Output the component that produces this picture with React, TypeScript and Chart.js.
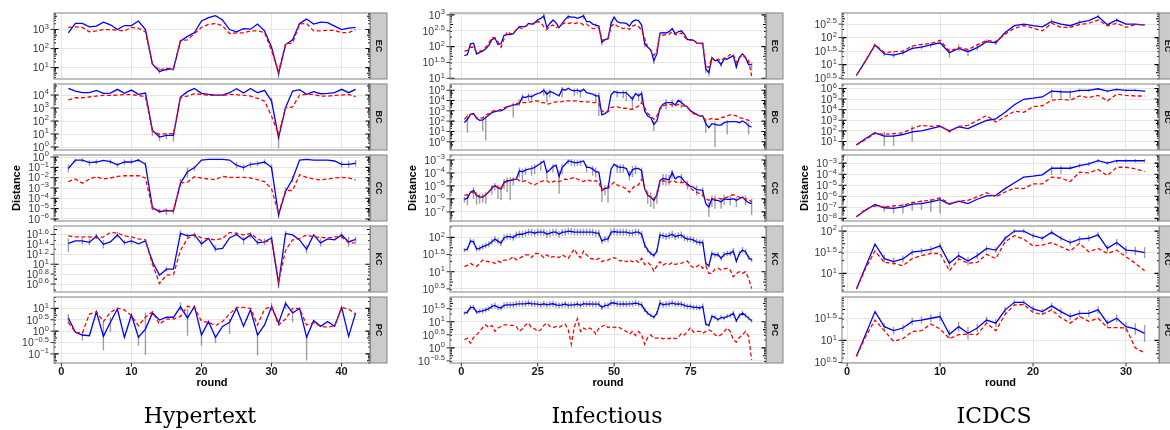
import React, { useEffect, useRef } from 'react';
import { Chart, registerables } from 'chart.js';
Chart.register(...registerables);

// All series values as log10(Distance) exponents.
// rounds are 1..N (index + 1)

// ---------- Hypertext (42 rounds) ----------
const hyperXTicks = [0, 10, 20, 30, 40];
const hyperEC_solid = [2.82,3.32,3.32,3.14,3.18,3.39,3.25,3.0,3.21,3.21,3.45,3.0,1.18,0.79,0.91,0.93,2.39,2.64,2.84,3.45,3.63,3.73,3.5,3.0,2.88,3.05,3.02,3.29,2.93,2.07,0.68,2.21,2.46,3.32,3.55,3.29,3.39,3.36,3.18,3.0,3.07,3.11];
const hyperEC_dashed = [3.11,3.14,3.11,2.88,2.93,3.0,3.0,2.96,2.93,3.11,3.07,2.88,1.18,0.88,0.96,0.96,2.43,2.46,2.79,3.11,3.27,3.32,3.2,2.79,2.82,2.82,2.93,2.93,2.84,1.89,0.79,2.25,2.29,3.29,3.32,2.93,2.93,2.96,2.96,2.84,2.84,3.0];
const hyperBC_solid = [4.51,4.31,4.18,4.18,4.36,4.13,4.15,4.44,4.13,4.38,4.05,4.15,1.28,0.77,0.9,0.9,3.85,4.26,4.51,4.13,4.05,4.0,4.0,4.18,4.49,4.15,4.51,4.18,4.36,3.54,0.72,3.03,4.31,4.41,4.05,4.26,4.1,4.13,4.18,4.44,4.18,4.44];
const hyperBC_dashed = [3.62,3.79,3.79,3.85,3.92,3.97,3.97,4.0,4.03,4.03,3.97,3.87,1.23,0.97,1.03,1.03,3.79,3.92,4.1,4.05,3.97,3.97,3.97,4.05,4.03,3.97,3.92,3.74,3.54,2.38,0.97,3.03,3.08,4.0,4.05,4.05,3.92,3.92,3.97,4.0,4.05,3.87];
const hyperCC_solid = [-1.11,-0.29,-0.29,-0.54,-0.48,-0.32,-0.44,-0.76,-0.48,-0.48,-0.29,-0.7,-4.89,-5.3,-5.2,-5.24,-2.54,-1.43,-1.02,-0.29,-0.22,-0.22,-0.22,-0.29,-0.79,-1.02,-0.7,-0.63,-0.48,-1.02,-5.62,-3.33,-2.13,-0.29,-0.22,-0.29,-0.29,-0.29,-0.38,-0.7,-0.7,-0.6];
const hyperCC_dashed = [-2.38,-2.13,-2.54,-2.13,-1.9,-2.13,-2.03,-1.87,-1.81,-1.81,-1.81,-2.03,-4.98,-5.2,-5.14,-5.2,-2.51,-2.44,-1.9,-2.03,-2.13,-2.19,-1.87,-1.97,-1.97,-1.97,-2.03,-2.19,-2.38,-3.08,-5.46,-3.24,-3.24,-1.71,-1.97,-2.13,-2.22,-2.13,-2.03,-1.97,-2.03,-2.22];
const hyperKC_solid = [1.42,1.47,1.47,1.44,1.57,1.40,1.45,1.59,1.43,1.47,1.41,1.47,1.05,0.78,0.9,0.9,1.62,1.57,1.59,1.41,1.52,1.30,1.32,1.53,1.60,1.49,1.59,1.43,1.45,1.53,0.61,1.62,1.59,1.49,1.30,1.59,1.43,1.51,1.49,1.59,1.45,1.50];
const hyperKC_dashed = [1.57,1.55,1.55,1.55,1.53,1.55,1.64,1.63,1.57,1.55,1.51,1.49,1.0,0.61,0.78,0.79,1.28,1.52,1.6,1.53,1.51,1.49,1.52,1.64,1.62,1.59,1.62,1.51,1.45,1.47,0.65,1.28,1.49,1.52,1.59,1.55,1.54,1.53,1.55,1.55,1.43,1.43];
const hyperPC_solid = [0.58,-0.05,-0.17,-0.2,0.85,-0.23,0.39,0.97,-0.27,0.71,-0.27,0.09,0.8,0.49,0.61,0.61,1.07,0.58,1.09,-0.17,0.42,-0.27,0.21,0.39,1.01,0.21,0.94,-0.17,0.27,1.07,0.36,1.22,0.8,1.0,-0.27,0.46,0.21,0.42,0.21,1.04,-0.23,0.8];
const hyperPC_dashed = [0.39,-0.05,-0.09,0.75,0.85,0.42,0.82,1.01,0.94,0.68,0.24,0.61,0.85,0.31,0.53,0.53,0.65,1.09,1.04,0.43,0.39,0.24,0.42,0.75,1.04,1.04,1.0,0.27,0.97,1.09,0.27,0.53,1.0,1.0,0.27,0.36,0.21,0.17,0.24,1.04,0.97,0.75];
const hyperEC_ticks = [1, 2, 3];
const hyperBC_ticks = [0, 1, 2, 3, 4];
const hyperCC_ticks = [-6, -5, -4, -3, -2, -1, 0];
const hyperKC_ticks = [0.6, 0.8, 1, 1.2, 1.4, 1.6];
const hyperPC_ticks = [-1, -0.5, 0, 0.5, 1];
// error bars of the solid series: [round, low, high]
const hyperEC_err = [[14,0.68,1.0],[15,0.8,1.0],[16,0.82,1.02],[31,0.45,0.85]];
const hyperBC_err = [[13,0.85,1.5],[14,0.46,1.05],[15,0.6,1.05],[16,0.41,1.1],[30,3.3,3.8],[31,-0.1,1.1]];
const hyperCC_err = [[1,-1.49,-0.7],[2,-0.54,-0.16],[3,-0.48,-0.1],[4,-0.86,-0.29],[5,-0.7,-0.22],[7,-0.7,-0.22],[8,-1.02,-0.54],[9,-0.76,-0.22],[10,-0.7,-0.22],[11,-0.48,-0.16],[12,-0.92,-0.48],[13,-5.14,-4.67],[14,-5.46,-5.05],[15,-5.62,-4.98],[16,-5.56,-4.98],[17,-2.92,-2.13],[18,-1.97,-1.02],[19,-1.33,-0.86],[25,-1.11,-0.48],[26,-1.33,-0.7],[27,-1.02,-0.48],[28,-0.86,-0.38],[29,-0.7,-0.22],[30,-1.33,-0.7],[31,-6.0,-5.3],[32,-3.65,-2.92],[33,-2.44,-1.81],[40,-1.02,-0.38],[41,-1.02,-0.38],[42,-0.92,-0.29]];
const hyperKC_err = [[1,1.25,1.52],[3,1.40,1.53],[4,1.385,1.52],[5,1.506,1.62],[6,1.318,1.486],[8,1.533,1.654],[9,1.385,1.486],[10,1.40,1.533],[13,0.983,1.117],[15,0.848,0.949],[17,1.553,1.687],[18,1.506,1.62],[19,1.519,1.64],[20,1.352,1.486],[22,1.251,1.385],[25,1.573,1.654],[26,1.40,1.553],[27,1.519,1.64],[28,1.385,1.486],[29,1.385,1.519],[30,1.486,1.573],[31,0.513,0.714],[32,1.573,1.667],[35,1.217,1.385],[37,1.352,1.519],[40,1.519,1.64],[41,1.352,1.553],[42,1.452,1.553]];
const hyperPC_err = [[1,0.31,0.75],[3,-0.42,-0.05],[6,-0.85,0.39],[7,-0.05,0.61],[11,-0.64,-0.2],[12,-1.04,0.82],[17,0.9,1.26],[18,-0.2,0.97],[20,-0.64,-0.05],[22,-0.52,-0.2],[24,-0.12,0.53],[28,-1.07,-0.05],[30,0.9,1.23],[31,0.24,0.46],[32,0.97,1.34],[33,0.39,0.9],[35,-1.29,-0.2]];

// ---------- Infectious (95 rounds) ----------
const infXTicks = [0, 25, 50, 75];
const infEC_solid = [1.72,1.75,2.09,2.11,1.77,1.82,1.86,1.93,2.04,2.22,2.27,2.07,2.09,2.36,2.38,2.38,2.41,2.52,2.63,2.63,2.63,2.73,2.71,2.75,2.84,2.89,2.97,2.6,2.73,2.84,2.75,2.6,2.73,2.86,2.95,2.93,2.93,2.89,2.93,2.97,2.79,2.79,2.71,2.68,2.65,2.14,2.22,2.25,2.73,2.93,2.79,2.75,2.75,2.73,2.65,2.79,2.84,2.82,2.68,2.09,1.98,1.9,1.56,1.77,2.43,2.44,2.43,2.47,2.57,2.41,2.47,2.5,2.39,2.22,2.22,2.2,2.12,2.11,2.09,1.29,1.18,1.64,1.56,1.56,1.43,1.61,1.61,1.66,1.72,1.36,1.66,1.77,1.66,1.43,1.43];
const infEC_dashed = [1.86,1.88,1.98,1.98,1.82,1.86,1.88,1.98,2.11,2.28,2.28,2.14,1.98,2.25,2.47,2.41,2.41,2.54,2.6,2.57,2.65,2.68,2.71,2.71,2.79,2.75,2.63,2.54,2.65,2.68,2.6,2.63,2.71,2.75,2.73,2.75,2.73,2.75,2.75,2.68,2.71,2.63,2.57,2.57,2.6,2.22,2.2,2.25,2.63,2.73,2.65,2.6,2.57,2.59,2.54,2.65,2.68,2.63,2.52,2.25,1.98,1.88,1.72,1.88,2.39,2.36,2.38,2.39,2.47,2.38,2.38,2.43,2.3,2.22,2.2,2.22,2.11,2.09,2.11,1.4,1.34,1.66,1.56,1.61,1.56,1.64,1.68,1.75,1.75,1.5,1.64,1.75,1.64,1.56,1.07];
const infBC_solid = [1.85,2.18,2.66,2.73,2.27,2.08,2.11,2.34,2.6,2.82,2.92,2.99,2.99,3.15,3.38,3.47,3.57,3.57,3.70,4.35,4.29,4.45,4.35,4.55,4.68,4.77,5.0,4.61,4.87,4.77,4.61,4.45,5.1,5.0,5.19,5.0,4.94,5.0,4.87,5.1,4.77,4.68,4.61,4.45,4.45,2.6,2.73,2.99,4.55,4.87,4.77,4.77,4.77,4.74,4.45,4.12,4.68,4.45,4.68,2.99,2.5,2.34,1.69,2.01,3.25,3.64,3.8,3.8,3.8,3.57,4.03,3.8,3.57,3.38,2.99,2.82,2.66,2.5,2.5,1.75,1.36,1.75,1.69,1.62,1.62,1.85,1.92,1.95,1.95,1.95,1.85,2.01,1.85,1.53,1.43];
const infBC_dashed = [2.18,2.5,2.66,2.66,2.34,2.27,2.34,2.6,2.73,2.92,3.05,3.05,3.15,3.31,3.38,3.47,3.57,3.70,3.8,3.8,3.8,3.8,3.9,3.96,3.96,3.8,3.8,3.64,3.70,3.8,3.86,3.86,3.9,3.96,3.96,3.96,3.96,3.96,3.9,3.9,3.86,3.86,3.8,3.8,3.7,2.99,2.82,2.89,3.31,3.38,3.38,3.31,3.25,3.25,3.15,3.15,3.31,3.47,3.8,3.31,2.73,2.5,2.18,2.5,3.15,3.47,3.57,3.64,3.57,3.47,3.64,3.47,3.47,3.31,2.99,2.73,2.6,2.5,2.4,2.08,2.18,2.27,2.18,2.18,2.34,2.4,2.5,2.6,2.6,2.5,2.34,2.27,2.18,2.08,1.85];
const infCC_solid = [-6.04,-5.94,-5.48,-5.35,-5.73,-5.86,-5.86,-5.68,-5.48,-5.18,-4.97,-5.15,-5.23,-4.72,-4.59,-4.59,-4.54,-4.47,-3.84,-3.91,-3.78,-3.71,-3.66,-3.58,-3.41,-3.25,-3.08,-3.96,-3.76,-3.51,-3.41,-4.27,-3.58,-3.33,-3.08,-3.13,-3.2,-3.2,-3.15,-3.08,-3.58,-3.58,-3.71,-3.91,-3.96,-5.35,-5.18,-5.18,-3.71,-3.33,-3.51,-3.58,-3.58,-3.66,-4.22,-3.76,-3.66,-3.66,-3.84,-5.23,-5.73,-5.86,-6.11,-5.68,-4.59,-4.42,-4.47,-4.52,-3.96,-4.47,-4.27,-4.34,-4.67,-4.85,-5.03,-5.1,-5.28,-5.3,-5.35,-6.37,-6.62,-5.99,-6.11,-6.11,-6.24,-5.99,-6.04,-6.04,-5.99,-6.11,-5.99,-5.86,-6.11,-6.29,-6.37];
const infCC_dashed = [-5.73,-5.68,-5.48,-5.53,-5.73,-5.78,-5.86,-5.68,-5.43,-5.1,-4.97,-5.1,-5.23,-4.77,-4.67,-4.59,-4.47,-4.42,-4.59,-4.67,-4.59,-4.72,-4.85,-4.92,-4.77,-4.67,-4.59,-4.59,-4.77,-4.67,-4.59,-4.67,-4.59,-4.47,-4.52,-4.42,-4.34,-4.47,-4.59,-4.67,-4.52,-4.59,-4.67,-4.59,-4.72,-5.35,-5.23,-5.18,-4.92,-4.72,-4.92,-5.03,-5.1,-5.23,-5.48,-5.18,-4.97,-4.92,-4.47,-5.1,-5.68,-5.86,-5.99,-5.73,-4.77,-4.59,-4.67,-4.72,-4.59,-4.67,-4.77,-4.72,-4.77,-4.92,-5.18,-5.35,-5.48,-5.61,-5.73,-5.99,-6.11,-5.99,-6.04,-5.94,-5.99,-5.94,-5.86,-5.73,-5.68,-5.78,-5.86,-5.94,-5.99,-6.04,-6.24];
const infKC_solid = [1.63,1.66,1.89,1.87,1.66,1.68,1.73,1.76,1.8,1.87,1.95,1.89,1.83,1.99,2.02,2.02,1.99,2.07,2.09,2.09,2.12,2.15,2.15,2.12,2.15,2.15,2.15,2.09,2.12,2.15,2.15,2.09,2.15,2.15,2.18,2.17,2.15,2.15,2.15,2.15,2.15,2.15,2.15,2.12,2.12,1.89,1.95,1.95,2.15,2.17,2.15,2.15,2.15,2.15,2.12,2.12,2.15,2.15,2.09,1.78,1.63,1.53,1.47,1.6,2.07,2.05,2.02,2.05,2.09,2.02,2.05,2.07,1.99,1.95,1.95,1.92,1.87,1.85,1.85,1.24,1.17,1.53,1.49,1.5,1.39,1.5,1.53,1.53,1.6,1.31,1.53,1.63,1.58,1.41,1.34];
const infKC_dashed = [1.15,1.19,1.24,1.19,1.15,1.24,1.34,1.31,1.29,1.29,1.24,1.31,1.27,1.34,1.34,1.37,1.44,1.34,1.39,1.44,1.49,1.49,1.41,1.53,1.53,1.49,1.41,1.49,1.41,1.44,1.44,1.41,1.49,1.44,1.39,1.53,1.66,1.49,1.41,1.6,1.49,1.39,1.37,1.34,1.39,1.29,1.34,1.34,1.39,1.41,1.37,1.31,1.34,1.29,1.34,1.29,1.34,1.27,1.39,1.21,1.27,1.19,1.02,1.17,1.29,1.19,1.24,1.21,1.27,1.21,1.24,1.24,1.29,1.31,1.17,1.12,1.15,1.21,1.1,1.17,0.95,0.95,1.08,1.1,1.05,1.08,1.1,1.05,0.85,0.95,1.0,0.95,1.0,0.81,0.51];
const infPC_solid = [1.33,1.37,1.55,1.55,1.37,1.4,1.42,1.46,1.5,1.59,1.63,1.55,1.53,1.63,1.65,1.65,1.65,1.68,1.69,1.69,1.69,1.72,1.69,1.69,1.68,1.65,1.69,1.65,1.68,1.69,1.65,1.63,1.65,1.68,1.63,1.65,1.65,1.68,1.63,1.69,1.68,1.69,1.68,1.68,1.68,1.55,1.63,1.63,1.72,1.72,1.69,1.68,1.69,1.68,1.69,1.69,1.72,1.69,1.65,1.46,1.33,1.24,1.18,1.33,1.72,1.65,1.68,1.68,1.72,1.68,1.69,1.68,1.63,1.59,1.59,1.55,1.55,1.53,1.59,0.91,0.86,1.21,1.17,1.08,1.17,1.14,1.21,1.24,1.33,1.04,1.24,1.33,1.24,1.14,1.04];
const infPC_dashed = [0.31,0.37,0.18,0.4,0.5,0.63,0.78,0.88,0.78,0.86,0.63,0.76,0.82,0.88,0.88,0.86,0.86,0.82,0.63,0.73,0.88,0.95,0.76,0.73,0.63,0.69,0.86,0.95,0.82,0.78,0.82,0.78,0.86,0.91,0.69,0.14,0.82,1.12,0.63,0.76,0.69,0.76,0.69,0.53,0.76,0.82,0.88,0.78,0.82,0.78,0.82,0.76,0.69,0.63,0.53,0.63,0.47,0.63,0.5,0.14,0.4,0.5,0.37,0.37,0.4,0.35,0.37,0.35,0.4,0.35,0.4,0.56,0.5,0.63,0.78,0.6,0.63,0.63,0.56,0.63,0.69,0.63,0.5,0.44,0.5,0.63,0.76,0.63,0.31,0.22,0.4,0.5,0.63,0.44,-0.46];
const infEC_ticks = [1, 1.5, 2, 2.5, 3];
const infBC_ticks = [0, 1, 2, 3, 4, 5];
const infCC_ticks = [-7, -6, -5, -4, -3];
const infKC_ticks = [0.5, 1, 1.5, 2];
const infPC_ticks = [-0.5, 0, 0.5, 1, 1.5];
const infEC_err = [[27,2.86,3.05],[35,2.86,3.0],[40,2.86,3.03],[44,2.6,2.73],[46,2.04,2.22],[49,2.65,2.82],[60,1.98,2.14],[63,1.45,1.64],[80,1.18,1.36],[81,1.07,1.29],[85,1.36,1.5],[90,1.29,1.45],[95,1.24,1.5]];
const infBC_err = [[2,0.88,2.66],[7,1.04,2.34],[8,0.13,2.5],[17,2.34,3.8],[19,3.47,4.12],[20,3.96,4.61],[22,3.96,4.68],[23,4.03,4.61],[27,4.45,5.19],[28,3.8,4.94],[29,4.29,5.1],[33,4.29,5.32],[37,4.45,5.19],[38,4.61,5.19],[39,4.29,5.1],[44,3.8,4.68],[45,2.5,4.77],[51,4.29,5.0],[53,4.22,5.0],[54,3.96,4.94],[56,3.15,4.45],[58,3.96,4.77],[59,3.64,4.94],[63,1.04,2.01],[67,3.15,4.12],[69,3.31,4.12],[72,3.28,4.12],[80,0.88,2.01],[83,-0.52,1.95],[87,0.71,2.08],[94,0.71,1.85]];
const infCC_err = [[1,-6.29,-5.86],[2,-6.49,-5.68],[4,-5.99,-5.1],[5,-6.44,-5.48],[6,-6.37,-5.61],[7,-6.29,-5.61],[8,-6.37,-5.48],[10,-5.68,-4.92],[11,-5.35,-4.77],[12,-5.99,-4.92],[13,-6.11,-4.97],[14,-5.23,-4.47],[15,-5.48,-4.34],[16,-6.11,-4.34],[17,-4.97,-4.34],[19,-4.34,-3.58],[20,-4.72,-3.66],[21,-4.16,-3.58],[23,-4.22,-3.41],[24,-4.09,-3.33],[26,-3.84,-3.08],[28,-4.47,-3.71],[30,-3.96,-3.33],[32,-5.61,-3.84],[33,-4.09,-3.33],[35,-3.33,-2.95],[36,-3.46,-2.95],[37,-3.51,-3.0],[38,-3.46,-3.0],[39,-3.46,-3.0],[41,-3.96,-3.33],[43,-4.22,-3.46],[44,-4.34,-3.58],[46,-6.24,-5.1],[47,-5.73,-4.97],[48,-6.29,-4.92],[51,-3.96,-3.33],[52,-4.01,-3.33],[53,-3.96,-3.33],[55,-4.59,-3.84],[56,-4.34,-3.46],[57,-4.09,-3.41],[59,-4.34,-3.58],[61,-6.37,-5.43],[62,-6.62,-5.48],[63,-6.75,-5.86],[64,-6.37,-5.35],[66,-4.92,-4.09],[67,-4.97,-4.09],[68,-4.92,-4.16],[69,-4.42,-3.76],[72,-4.72,-4.09],[74,-5.28,-4.59],[77,-5.73,-4.97],[79,-5.86,-5.1],[81,-7.38,-6.24],[82,-6.62,-5.73],[83,-6.75,-5.73],[85,-6.75,-5.94],[86,-6.44,-5.68],[88,-6.49,-5.73],[90,-6.62,-5.86],[93,-6.49,-5.73],[95,-7.25,-5.99]];
// symmetric half-widths of the error bars of the solid series
const infKC_spread = [0.06,0.06,0.08,0.08,0.07,0.08,0.08,0.08,0.09,0.09,0.09,0.09,0.09,0.09,0.09,0.09,0.09,0.1,0.1,0.1,0.1,0.1,0.1,0.1,0.1,0.1,0.1,0.1,0.1,0.1,0.1,0.1,0.1,0.1,0.1,0.1,0.1,0.1,0.1,0.1,0.1,0.1,0.1,0.1,0.1,0.08,0.09,0.09,0.1,0.1,0.1,0.1,0.1,0.1,0.1,0.1,0.1,0.1,0.1,0.09,0.07,0.06,0.06,0.07,0.09,0.09,0.1,0.1,0.1,0.1,0.1,0.1,0.1,0.09,0.09,0.09,0.09,0.09,0.09,0.06,0.05,0.08,0.08,0.08,0.07,0.08,0.08,0.08,0.09,0.06,0.08,0.09,0.08,0.07,0.06];
const infPC_spread = [0.07,0.08,0.1,0.1,0.09,0.09,0.1,0.1,0.1,0.11,0.11,0.1,0.1,0.11,0.11,0.11,0.11,0.12,0.12,0.12,0.12,0.12,0.12,0.12,0.12,0.11,0.12,0.11,0.12,0.12,0.11,0.11,0.11,0.12,0.11,0.11,0.11,0.12,0.11,0.12,0.12,0.12,0.12,0.12,0.12,0.1,0.11,0.11,0.12,0.12,0.12,0.12,0.12,0.12,0.12,0.12,0.12,0.12,0.11,0.09,0.08,0.07,0.07,0.08,0.12,0.11,0.12,0.12,0.12,0.12,0.12,0.12,0.11,0.11,0.11,0.1,0.1,0.1,0.11,0.06,0.06,0.08,0.08,0.07,0.08,0.08,0.08,0.09,0.09,0.07,0.09,0.1,0.09,0.08,0.07];

// ---------- ICDCS (32 rounds) ----------
const icXTicks = [0, 10, 20, 30];
const icEC_solid = [0.6,1.15,1.73,1.4,1.35,1.44,1.6,1.65,1.73,1.81,1.44,1.6,1.48,1.63,1.85,1.81,2.19,2.44,2.5,2.44,2.4,2.6,2.5,2.44,2.56,2.63,2.78,2.48,2.65,2.5,2.5,2.46];
const icEC_dashed = [0.6,1.15,1.75,1.44,1.48,1.5,1.69,1.75,1.78,1.9,1.5,1.63,1.56,1.73,1.9,1.85,2.13,2.35,2.44,2.35,2.25,2.53,2.38,2.38,2.48,2.53,2.65,2.44,2.53,2.38,2.48,2.48];
const icBC_solid = [0.68,1.29,1.82,1.51,1.51,1.66,1.91,2.0,2.22,2.43,2.0,2.37,2.22,2.62,2.98,3.14,3.75,4.46,4.98,5.08,5.2,5.75,5.69,5.66,5.82,5.82,5.97,5.75,5.91,5.82,5.82,5.75];
const icBC_dashed = [0.68,1.2,1.75,1.69,1.75,1.82,2.22,2.52,2.43,2.52,1.91,2.43,2.52,2.98,3.45,2.83,3.35,3.85,3.75,4.28,4.37,4.89,4.98,4.89,5.29,5.14,5.35,4.83,5.45,5.35,5.29,5.29];
const icCC_solid = [-7.85,-7.25,-6.75,-7.04,-7.1,-6.96,-6.72,-6.66,-6.51,-6.3,-6.72,-6.45,-6.66,-6.27,-5.97,-5.91,-5.31,-4.78,-4.27,-4.18,-4.06,-3.46,-3.46,-3.46,-3.22,-3.07,-2.78,-2.99,-2.78,-2.78,-2.78,-2.78];
const icCC_dashed = [-7.85,-7.16,-6.87,-6.96,-6.87,-6.81,-6.57,-6.45,-6.36,-6.15,-6.66,-6.45,-6.36,-6.06,-5.67,-6.06,-5.61,-5.25,-5.31,-4.87,-4.87,-4.27,-4.36,-4.66,-3.82,-3.88,-3.58,-4.12,-3.37,-3.37,-3.52,-3.76];
const icKC_solid = [0.63,1.16,1.69,1.35,1.28,1.34,1.5,1.53,1.57,1.65,1.24,1.42,1.29,1.42,1.59,1.55,1.83,2.0,2.0,1.89,1.83,1.97,1.83,1.73,1.81,1.83,1.91,1.59,1.73,1.55,1.53,1.49];
const icKC_dashed = [0.63,1.12,1.53,1.26,1.24,1.18,1.35,1.42,1.47,1.47,1.06,1.34,1.24,1.26,1.45,1.35,1.75,1.89,1.81,1.65,1.67,1.73,1.63,1.53,1.71,1.51,1.59,1.47,1.55,1.39,1.24,1.06];
const icPC_solid = [0.64,1.14,1.65,1.31,1.22,1.28,1.43,1.46,1.5,1.54,1.14,1.31,1.16,1.28,1.46,1.39,1.69,1.86,1.86,1.71,1.65,1.78,1.65,1.54,1.61,1.61,1.69,1.39,1.5,1.31,1.26,1.16];
const icPC_dashed = [0.64,1.09,1.46,1.22,0.98,1.04,1.2,1.22,1.37,1.26,1.04,1.13,1.14,1.13,1.39,1.22,1.59,1.8,1.81,1.63,1.59,1.69,1.51,1.39,1.54,1.43,1.5,1.29,1.29,1.28,0.83,0.72];
const icEC_ticks = [0.5, 1, 1.5, 2, 2.5];
const icBC_ticks = [1, 2, 3, 4, 5, 6];
const icCC_ticks = [-8, -7, -6, -5, -4, -3];
const icKC_ticks = [1, 1.5, 2];
const icPC_ticks = [0.5, 1, 1.5];
const icEC_err = [[4,1.31,1.5],[5,1.25,1.475],[6,1.35,1.525],[7,1.56,1.69],[8,1.56,1.75],[9,1.625,1.81],[11,1.25,1.6],[12,1.5,1.75],[13,1.31,1.6],[14,1.525,1.75],[15,1.81,1.94],[16,1.725,1.9],[22,2.525,2.69],[25,2.475,2.65],[27,2.725,2.85],[29,2.56,2.725]];
const icBC_err = [[4,0.58,1.91],[5,0.58,1.75],[7,0.98,2.52],[22,5.08,5.91],[23,5.08,5.91],[24,5.05,5.88],[25,5.69,5.97],[26,5.7,5.95],[27,5.85,6.05],[28,5.62,5.88],[29,5.8,6.0],[30,5.72,5.92],[31,5.72,5.92],[32,5.65,5.85]];
const icCC_err = [[4,-7.4,-6.81],[5,-7.55,-6.75],[6,-7.55,-6.66],[7,-7.34,-6.45],[8,-7.25,-6.36],[9,-7.4,-6.21],[10,-7.55,-6.06],[22,-4.06,-3.22],[23,-3.97,-3.22],[24,-3.6,-3.22],[25,-3.4,-3.05],[26,-3.25,-2.9],[27,-2.95,-2.62],[28,-3.15,-2.82],[29,-3.0,-2.7],[30,-2.95,-2.62],[31,-2.95,-2.62],[32,-2.95,-2.62]];
const icKC_spread = [0,0,0,0.09,0.09,0.08,0.07,0.07,0.07,0.07,0.09,0.09,0.1,0.08,0.07,0.07,0.06,0.05,0.05,0.06,0.06,0.06,0.06,0.07,0.07,0.07,0.07,0.08,0.08,0.1,0.1,0.13];
const icPC_spread = [0,0,0,0.08,0.09,0.08,0.08,0.08,0.09,0.1,0.1,0.11,0.14,0.09,0.08,0.09,0.07,0.06,0.06,0.07,0.07,0.07,0.07,0.08,0.08,0.08,0.08,0.08,0.09,0.11,0.13,0.19];

const facetNames = ['EC', 'BC', 'CC', 'KC', 'PC'];

type Facet = {
  solid: number[]; dashed: number[]; ticks: number[]; range: [number, number];
  err?: number[][]; spread?: number[];
};
type Col = {
  title: string; plotL: number; plotR: number; xRange: [number, number];
  xTicks: number[]; titleX: number; facets: Facet[];
};

const COLS: Col[] = [
  {
    title: 'Hypertext', plotL: 54, plotR: 370, xRange: [-1.05, 44.05], xTicks: hyperXTicks, titleX: 200,
    facets: [
      { solid: hyperEC_solid, dashed: hyperEC_dashed, ticks: hyperEC_ticks, range: [0.4, 3.87], err: hyperEC_err },
      { solid: hyperBC_solid, dashed: hyperBC_dashed, ticks: hyperBC_ticks, range: [-0.23, 4.85], err: hyperBC_err },
      { solid: hyperCC_solid, dashed: hyperCC_dashed, ticks: hyperCC_ticks, range: [-6.2, 0.2], err: hyperCC_err },
      { solid: hyperKC_solid, dashed: hyperKC_dashed, ticks: hyperKC_ticks, range: [0.44, 1.77], err: hyperKC_err },
      { solid: hyperPC_solid, dashed: hyperPC_dashed, ticks: hyperPC_ticks, range: [-1.4, 1.5], err: hyperPC_err },
    ],
  },
  {
    title: 'Infectious', plotL: 450, plotR: 766, xRange: [-3.7, 99.7], xTicks: infXTicks, titleX: 607,
    facets: [
      { solid: infEC_solid, dashed: infEC_dashed, ticks: infEC_ticks, range: [0.98, 3.06], err: infEC_err },
      { solid: infBC_solid, dashed: infBC_dashed, ticks: infBC_ticks, range: [-0.8, 5.6], err: infBC_err },
      { solid: infCC_solid, dashed: infCC_dashed, ticks: infCC_ticks, range: [-7.7, -2.62], err: infCC_err },
      { solid: infKC_solid, dashed: infKC_dashed, ticks: infKC_ticks, range: [0.41, 2.33], spread: infKC_spread },
      { solid: infPC_solid, dashed: infPC_dashed, ticks: infPC_ticks, range: [-0.58, 1.95], spread: infPC_spread },
    ],
  },
  {
    title: 'ICDCS', plotL: 842, plotR: 1159, xRange: [-0.55, 33.55], xTicks: icXTicks, titleX: 994,
    facets: [
      { solid: icEC_solid, dashed: icEC_dashed, ticks: icEC_ticks, range: [0.47, 2.91], err: icEC_err },
      { solid: icBC_solid, dashed: icBC_dashed, ticks: icBC_ticks, range: [0.2, 6.42], err: icBC_err },
      { solid: icCC_solid, dashed: icCC_dashed, ticks: icCC_ticks, range: [-8.24, -2.26], err: icCC_err },
      { solid: icKC_solid, dashed: icKC_dashed, ticks: icKC_ticks, range: [0.56, 2.12], spread: icKC_spread },
      { solid: icPC_solid, dashed: icPC_dashed, ticks: icPC_ticks, range: [0.49, 1.98], spread: icPC_spread },
    ],
  },
];

const FACET_TOP = [13, 84, 155, 226, 297];
const FACET_H = 66;
const PAD_T = 12;
const PAD_L = 54;
const PAD_R = 20;
const BOTTOM_EXTRA = 26;
const STRIP_W = 16.5;
const SANS = '"Liberation Sans", Arial, Helvetica, sans-serif';

function fmtExp(v: number) {
  return String(v).replace('-', '\u2212');
}

function makePlugin(col: Col, facet: Facet, name: string, isBottom: boolean) {
  return {
    id: 'facetDeco' + name,
    beforeDatasetsDraw(chart: any) {
      const { ctx, chartArea: a, scales } = chart;
      const xs = scales.x, ys = scales.y;
      const bars: number[][] = [];
      (facet.err || []).forEach((b) => bars.push(b));
      (facet.spread || []).forEach((s, i) => {
        if (s > 0) bars.push([i + 1, facet.solid[i] - s, facet.solid[i] + s]);
      });
      ctx.save();
      ctx.beginPath();
      ctx.rect(a.left, a.top, a.right - a.left, a.bottom - a.top);
      ctx.clip();
      ctx.strokeStyle = 'rgba(95,95,95,0.6)';
      ctx.lineWidth = 1.4;
      bars.forEach(([r, lo, hi]) => {
        const px = xs.getPixelForValue(r);
        ctx.beginPath();
        ctx.moveTo(px, ys.getPixelForValue(lo));
        ctx.lineTo(px, ys.getPixelForValue(hi));
        ctx.stroke();
      });
      ctx.restore();
    },
    afterDraw(chart: any) {
      const { ctx, chartArea: a, scales } = chart;
      const xs = scales.x, ys = scales.y;
      const [ymin, ymax] = facet.range;
      ctx.save();
      // log ticks (annotation_logticks, both sides)
      ctx.strokeStyle = '#000';
      ctx.lineWidth = 1.1;
      for (let k = Math.floor(ymin); k <= Math.ceil(ymax); k++) {
        for (let m = 1; m <= 9; m++) {
          const v = k + Math.log10(m);
          if (v < ymin || v > ymax) continue;
          const len = m === 1 ? 4.5 : m === 5 ? 3 : 1.8;
          const py = ys.getPixelForValue(v);
          ctx.beginPath();
          ctx.moveTo(a.left, py); ctx.lineTo(a.left + len, py);
          ctx.moveTo(a.right, py); ctx.lineTo(a.right - len, py);
          ctx.stroke();
        }
      }
      // panel border
      ctx.strokeStyle = '#8c8c8c';
      ctx.lineWidth = 1.1;
      ctx.strokeRect(a.left, a.top, a.right - a.left, a.bottom - a.top);
      // y axis ticks and labels
      facet.ticks.forEach((t) => {
        const py = ys.getPixelForValue(t);
        ctx.strokeStyle = '#333';
        ctx.lineWidth = 1;
        ctx.beginPath();
        ctx.moveTo(a.left - 3.5, py); ctx.lineTo(a.left, py);
        ctx.stroke();
        ctx.fillStyle = '#3a3a3a';
        ctx.textAlign = 'left';
        ctx.textBaseline = 'alphabetic';
        ctx.font = '10.5px ' + SANS;
        const wb = ctx.measureText('10').width;
        const ex = fmtExp(t);
        ctx.font = '7.5px ' + SANS;
        const we = ctx.measureText(ex).width;
        const x0 = a.left - 5 - wb - we - 0.4;
        ctx.font = '10.5px ' + SANS;
        ctx.fillText('10', x0, py + 3.8);
        ctx.font = '7.5px ' + SANS;
        ctx.fillText(ex, x0 + wb + 0.4, py - 0.6);
      });
      // strip
      const sx = a.right + 0.5;
      ctx.fillStyle = '#cbcbcb';
      ctx.fillRect(sx, a.top, STRIP_W, a.bottom - a.top);
      ctx.strokeStyle = '#8c8c8c';
      ctx.lineWidth = 1.1;
      ctx.strokeRect(sx, a.top, STRIP_W, a.bottom - a.top);
      ctx.save();
      ctx.translate(sx + STRIP_W / 2, (a.top + a.bottom) / 2);
      ctx.rotate(Math.PI / 2);
      ctx.fillStyle = '#1a1a1a';
      ctx.font = 'bold 9px ' + SANS;
      ctx.textAlign = 'center';
      ctx.textBaseline = 'middle';
      ctx.fillText(name, 0, 0.5);
      ctx.restore();
      // x axis (bottom facet only)
      if (isBottom) {
        col.xTicks.forEach((t) => {
          const px = xs.getPixelForValue(t);
          ctx.strokeStyle = '#333';
          ctx.lineWidth = 1;
          ctx.beginPath();
          ctx.moveTo(px, a.bottom); ctx.lineTo(px, a.bottom + 3.5);
          ctx.stroke();
          ctx.fillStyle = '#1a1a1a';
          ctx.font = 'bold 11px ' + SANS;
          ctx.textAlign = 'center';
          ctx.textBaseline = 'alphabetic';
          ctx.fillText(String(t), px, a.bottom + 11.5);
        });
      }
      ctx.restore();
    },
  };
}

function FacetChart({ col, fi }: { col: Col; fi: number }) {
  const ref = useRef<HTMLCanvasElement | null>(null);
  const facet = col.facets[fi];
  const isBottom = fi === 4;
  const left = col.plotL - PAD_L;
  const width = col.plotR - col.plotL + PAD_L + PAD_R;
  const top = FACET_TOP[fi] - PAD_T;
  const height = FACET_H + 2 * PAD_T + (isBottom ? BOTTOM_EXTRA : 0);

  useEffect(() => {
    if (!ref.current) return;
    const grid = { color: '#e6e6e6', lineWidth: 1, drawTicks: false };
    const chart = new Chart(ref.current, {
      type: 'line',
      data: {
        datasets: [
          {
            data: facet.dashed.map((v, i) => ({ x: i + 1, y: v })),
            borderColor: '#ff0000', borderWidth: 1.3, borderDash: [4, 2.5],
            pointRadius: 0, fill: false, tension: 0, order: 0,
          },
          {
            data: facet.solid.map((v, i) => ({ x: i + 1, y: v })),
            borderColor: '#0000ff', borderWidth: 1.3,
            pointRadius: 0, fill: false, tension: 0, order: 1,
          },
        ],
      },
      options: {
        animation: false,
        responsive: false,
        events: [],
        layout: { padding: { left: PAD_L, right: PAD_R, top: PAD_T, bottom: PAD_T + (isBottom ? BOTTOM_EXTRA : 0) } },
        plugins: { legend: { display: false }, tooltip: { enabled: false }, title: { display: false } },
        scales: {
          x: {
            type: 'linear', min: col.xRange[0], max: col.xRange[1],
            afterBuildTicks: (s: any) => { s.ticks = col.xTicks.map((v) => ({ value: v })); },
            afterFit: (s: any) => { s.height = 0; },
            ticks: { display: false }, grid, border: { display: false },
          },
          y: {
            type: 'linear', min: facet.range[0], max: facet.range[1],
            afterBuildTicks: (s: any) => { s.ticks = facet.ticks.map((v) => ({ value: v })); },
            afterFit: (s: any) => { s.width = 0; },
            ticks: { display: false }, grid, border: { display: false },
          },
        },
      } as any,
      plugins: [makePlugin(col, facet, facetNames[fi], isBottom)],
    });
    return () => chart.destroy();
  }, []);

  return (
    <canvas
      ref={ref}
      width={width}
      height={height}
      style={{ position: 'absolute', left, top, width, height }}
    />
  );
}

export default function App() {
  useEffect(() => {
    document.body.style.margin = '0';
  }, []);
  return (
    <div style={{ position: 'absolute', left: 0, top: 0, width: 1170, height: 430, overflow: 'hidden', background: '#fff' }}>
      {COLS.map((col, ci) => (
        <React.Fragment key={ci}>
          {col.facets.map((_, fi) => (
            <FacetChart key={fi} col={col} fi={fi} />
          ))}
          <div
            style={{
              position: 'absolute', left: col.plotL - 38, top: 188,
              transform: 'translate(-50%, -50%) rotate(-90deg)',
              font: 'bold 11px ' + SANS, color: '#000', whiteSpace: 'nowrap',
            }}
          >
            Distance
          </div>
          <div
            style={{
              position: 'absolute', left: (col.plotL + col.plotR) / 2, top: 376.5,
              transform: 'translateX(-50%)', font: 'bold 11px ' + SANS, lineHeight: '11px',
              color: '#000', whiteSpace: 'nowrap',
            }}
          >
            round
          </div>
          <div
            style={{
              position: 'absolute', left: col.titleX, top: 405,
              transform: 'translateX(-50%)', font: '22px "DejaVu Serif", serif', lineHeight: '22px',
              color: '#000', whiteSpace: 'nowrap',
            }}
          >
            {col.title}
          </div>
        </React.Fragment>
      ))}
    </div>
  );
}
